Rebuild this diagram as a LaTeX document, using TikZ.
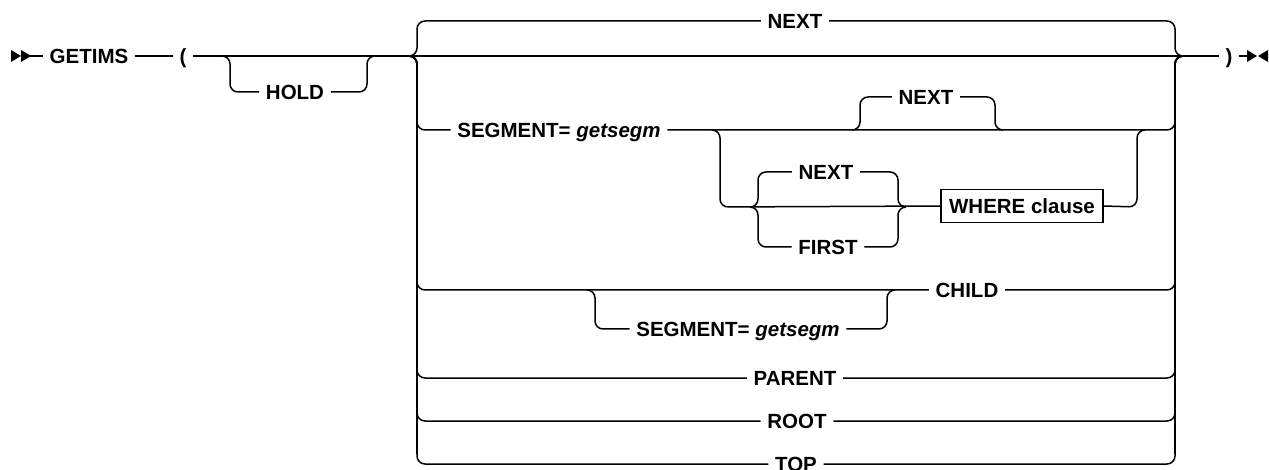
\documentclass[tikz,border=0pt]{standalone}
\usepackage{fontspec}
\setmainfont{Liberation Sans}
\begin{document}
\begin{tikzpicture}[x=1pt,y=-1pt,line width=1.5pt,
  lbl/.style={inner xsep=6pt, inner ysep=0pt, text height=14.7pt, text depth=0pt, font=\fontsize{20.5}{24}\selectfont\bfseries},
  rr/.style={draw, rounded corners=8pt},
  vbar/.style={draw, line width=2.1pt},
  boxed/.style={draw, line width=1.3pt, inner xsep=8pt, inner ysep=0pt, minimum height=33pt, text height=14.7pt, text depth=0pt, font=\fontsize{20.5}{24}\selectfont\bfseries}]
\useasboundingbox (0,0) rectangle (1269,470);
% start / end symbols
\fill (11,50) -- (21,56) -- (11,62) -- cycle;
\fill (21,50) -- (31,56) -- (21,62) -- cycle;
\coordinate (s0) at (30,56);
\fill (1247,50) -- (1257,56) -- (1247,62) -- cycle;
\fill (1268,50) -- (1258,56) -- (1268,62) -- cycle;
\coordinate (e0) at (1248,56);
% labels
\node[lbl] (getims) at (89,56) {GETIMS};
\node[lbl] (lp) at (183,56) {(};
\node[lbl] (rp) at (1229,56) {)};
\node[lbl] (hold) at (295,92) {HOLD};
\node[lbl] (next1) at (795,21) {NEXT};
\node[lbl] (seg1) at (559,130) {SEGMENT= \textit{getsegm}};
\node[lbl] (next2) at (926,97) {NEXT};
\node[lbl] (next3) at (826,172) {NEXT};
\node[lbl] (first) at (828,247) {FIRST};
\node[boxed] (where) at (1022,206) {WHERE clause};
\node[lbl] (child) at (967,290) {CHILD};
\node[lbl] (seg2) at (738,329) {SEGMENT= \textit{getsegm}};
\node[lbl] (parent) at (795,378) {PARENT};
\node[lbl] (root) at (797,421) {ROOT};
\node[lbl] (top) at (796,464) {TOP};
% junction coordinates
\coordinate (lj) at (408,56);
\coordinate (rj) at (1184,56);
% main line
\draw (s0) -- (getims.west);
\draw (getims.east) -- (lp.west);
\draw (lp.east) -- (rp.west);
\draw (rp.east) -- (e0);
% HOLD loop
\draw[rr] (222,56) -- (230,56) -- (230,92) -- (hold.west);
\draw[rr] (hold.east) -- (367,92) -- (367,56) -- (375,56);
% top NEXT branch
\draw[rr] (lj) -- (417,56) -- (417,21) -- (next1.west);
\draw[rr] (next1.east) -- (1175,21) -- (1175,56) -- (rj);
% SEGMENT row
\draw[rr] (lj) -- (417,56) -- (417,130) -- (seg1.west);
\draw[rr] (seg1.east) -- (1175,130) -- (1175,56) -- (rj);
\draw[rr] (852,130) -- (860,130) -- (860,97) -- (next2.west);
\draw[rr] (next2.east) -- (995,97) -- (995,130) -- (1003,130);
\draw[rr] (712,130) -- (720,130) -- (720,207) -- (where.west);
\draw[rr] (750,207) -- (758,207) -- (758,172) -- (next3.west);
\draw[rr] (750,207) -- (758,207) -- (758,247) -- (first.west);
\draw[rr] (next3.east) -- (898,172) -- (898,207) -- (906,207);
\draw[rr] (first.east) -- (898,247) -- (898,207) -- (906,207);
\draw[rr] (where.east) -- (1137,207) -- (1137,130) -- (1145,130);
% CHILD row
\draw[rr] (lj) -- (417,56) -- (417,290) -- (child.west);
\draw[rr] (child.east) -- (1175,290) -- (1175,56) -- (rj);
\draw[rr] (587,290) -- (595,290) -- (595,329) -- (seg2.west);
\draw[rr] (seg2.east) -- (887,329) -- (887,290) -- (895,290);
% PARENT, ROOT, TOP
\draw[rr] (lj) -- (417,56) -- (417,378) -- (parent.west);
\draw[rr] (parent.east) -- (1175,378) -- (1175,56) -- (rj);
\draw[rr] (lj) -- (417,56) -- (417,421) -- (root.west);
\draw[rr] (root.east) -- (1175,421) -- (1175,56) -- (rj);
\draw[rr] (lj) -- (417,56) -- (417,464) -- (top.west);
\draw[rr] (top.east) -- (1175,464) -- (1175,56) -- (rj);
% heavier main verticals
\draw[vbar] (417,66) -- (417,454);
\draw[vbar] (1175,66) -- (1175,454);
\end{tikzpicture}
\end{document}
